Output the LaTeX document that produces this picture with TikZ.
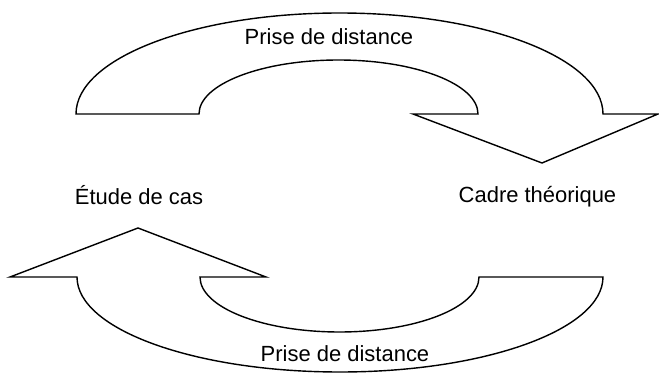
\documentclass[tikz,border=0pt]{standalone}
\usepackage{fontspec}
\setmainfont{Liberation Sans}
\usepackage{tikz}

\begin{document}
\begin{tikzpicture}[
    fleche/.style={draw=black, line width=0.8pt, fill=white, line join=miter},
    etiquette/.style={font=\fontsize{12.5}{15}\selectfont, anchor=base, inner sep=0pt}
  ]
    \useasboundingbox (0,0) rectangle (13.18,7.5);
    % fleche du haut
    \coordinate (HG) at (1.52, 5.22);
    \coordinate (HGi) at (3.98, 5.22);
    \coordinate (HDi) at (9.56, 5.22);
    \coordinate (Hp1) at (8.26, 5.22);
    \coordinate (Hp2) at (13.16, 5.22);
    \coordinate (Hpointe) at (10.84, 4.24);
    \draw[fleche] (HG) arc[start angle=180, end angle=0, x radius=5.27, y radius=2.02]
        -- (Hp2) -- (Hpointe) -- (Hp1) -- (HDi)
        arc[start angle=0, end angle=180, x radius=2.79, y radius=1.08] -- cycle;
    % fleche du bas
    \coordinate (BD) at (12.06, 1.96);
    \coordinate (BDi) at (9.58, 1.96);
    \coordinate (BGi) at (4.0, 1.96);
    \coordinate (Bp1) at (5.32, 1.96);
    \coordinate (Bp2) at (0.2, 1.96);
    \coordinate (Bpointe) at (2.76, 2.94);
    \draw[fleche] (BD) arc[start angle=0, end angle=-180, x radius=5.26, y radius=1.9]
        -- (Bp2) -- (Bpointe) -- (Bp1) -- (BGi)
        arc[start angle=180, end angle=360, x radius=2.79, y radius=1.1] -- cycle;
    \node[etiquette] (distHaut) at (6.58, 6.6) {Prise de distance};
    \node[etiquette] (distBas) at (6.9, 0.26) {Prise de distance};
    \node[etiquette] (etude) at (2.78, 3.4) {Étude de cas};
    \node[etiquette] (cadre) at (10.75, 3.44) {Cadre théorique};
\end{tikzpicture}
\end{document}
